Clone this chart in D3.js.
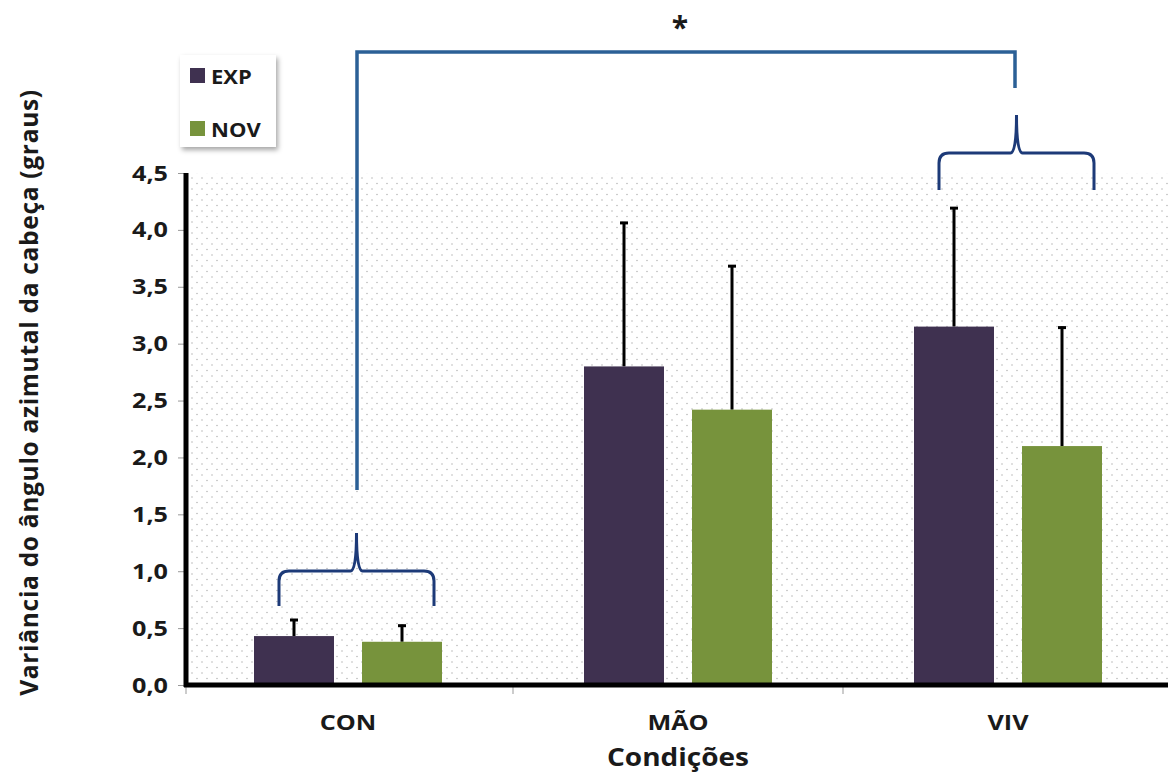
<!DOCTYPE html>
<html lang="pt">
<head>
  <meta charset="UTF-8">
  <title>Variância do ângulo azimutal da cabeça</title>
  <style>
    body { margin: 0; background: #fff; }
    svg { display: block; }
    text { font-family: "Open Sans", "Noto Sans", sans-serif; font-weight: bold; fill: #1a1a1a; }
  </style>
  <script src="https://d3js.org/d3.v7.min.js"></script>
</head>
<body>
  <div id="chart"></div>
  <script>
    // Data
    const categories = ['CON', 'MÃO', 'VIV'];
    const seriesNames = ['EXP', 'NOV'];
    const expValues = [0.43, 2.80, 3.15];
    const novValues = [0.38, 2.42, 2.10];
    const expErrors = [0.15, 1.27, 1.05];
    const novErrors = [0.15, 1.27, 1.05];
    const yTicks = [0, 0.5, 1, 1.5, 2, 2.5, 3, 3.5, 4, 4.5];

    const width = 1168, height = 775;
    const colors = { EXP: '#3f3150', NOV: '#77933c' };
    // the original figure is stretched sideways, so its glyphs are wide
    const stretch = 1.2;

    const svg = d3.select('#chart').append('svg')
      .attr('width', width).attr('height', height);

    // dotted background pattern
    const defs = svg.append('defs');
    const pat = defs.append('pattern')
      .attr('id', 'dots').attr('patternUnits', 'userSpaceOnUse')
      .attr('width', 10).attr('height', 11);
    pat.append('circle').attr('cx', 2).attr('cy', 2).attr('r', 0.8).attr('fill', '#b8b8b8');
    pat.append('circle').attr('cx', 7).attr('cy', 7.5).attr('r', 0.8).attr('fill', '#b8b8b8');

    const filter = defs.append('filter').attr('id', 'shadow')
      .attr('x', '-20%').attr('y', '-20%').attr('width', '150%').attr('height', '150%');
    filter.append('feDropShadow').attr('dx', 2).attr('dy', 3)
      .attr('stdDeviation', 2.5).attr('flood-color', '#000').attr('flood-opacity', 0.35);

    const x = d3.scaleBand().domain(categories).range([183, 1173]);
    const y = d3.scaleLinear().domain([0, 4.5]).range([685, 173]);
    const barW = 80, gap = 28;
    const xs = d3.scaleOrdinal().domain(seriesNames)
      .range([-(barW + gap / 2), gap / 2]);

    // plot background
    svg.append('rect')
      .attr('x', 186).attr('y', y(4.5))
      .attr('width', width - 186).attr('height', y(0) - y(4.5))
      .attr('fill', 'url(#dots)');

    // y axis (tick marks from d3, labels drawn separately)
    const yAxis = d3.axisLeft(y).tickValues(yTicks).tickFormat('').tickSize(8);
    const gy = svg.append('g').attr('transform', 'translate(186,0)').call(yAxis);
    gy.select('.domain').remove();
    gy.selectAll('.tick line').attr('stroke', '#999');

    svg.append('g').selectAll('text').data(yTicks).join('text')
      .attr('transform', d => `translate(168,${y(d)}) scale(${stretch},1)`)
      .attr('dy', '0.36em')
      .attr('text-anchor', 'end')
      .attr('font-size', 21)
      .text(d => d3.format('.1f')(d).replace('.', ','));

    // x axis separators
    const gx = svg.append('g').attr('transform', `translate(0,${y(0)})`);
    gx.selectAll('line.sep')
      .data(categories.slice(1))
      .join('line')
      .attr('x1', d => x(d)).attr('x2', d => x(d))
      .attr('y1', 0).attr('y2', 9)
      .attr('stroke', '#999');
    gx.append('line').attr('x1', 186).attr('x2', 186).attr('y1', 0).attr('y2', 9).attr('stroke', '#999');

    // bars
    const rows = categories.map((c, i) => [
      { cat: c, key: 'EXP', v: expValues[i], e: expErrors[i] },
      { cat: c, key: 'NOV', v: novValues[i], e: novErrors[i] }
    ]).flat();

    // error bars
    const eb = svg.append('g');
    eb.selectAll('line.err').data(rows).join('line')
      .attr('x1', d => x(d.cat) + x.bandwidth() / 2 + xs(d.key) + barW / 2)
      .attr('x2', d => x(d.cat) + x.bandwidth() / 2 + xs(d.key) + barW / 2)
      .attr('y1', d => y(d.v)).attr('y2', d => y(d.v + d.e))
      .attr('stroke', '#000').attr('stroke-width', 3);
    eb.selectAll('line.cap').data(rows).join('line')
      .attr('x1', d => x(d.cat) + x.bandwidth() / 2 + xs(d.key) + barW / 2 - 4)
      .attr('x2', d => x(d.cat) + x.bandwidth() / 2 + xs(d.key) + barW / 2 + 4)
      .attr('y1', d => y(d.v + d.e) + 1).attr('y2', d => y(d.v + d.e) + 1)
      .attr('stroke', '#000').attr('stroke-width', 3);

    svg.append('g').selectAll('rect').data(rows).join('rect')
      .attr('x', d => x(d.cat) + x.bandwidth() / 2 + xs(d.key))
      .attr('y', d => y(d.v))
      .attr('width', barW)
      .attr('height', d => y(0) - y(d.v))
      .attr('fill', d => colors[d.key]);

    // thick axis lines
    svg.append('line').attr('x1', 186).attr('x2', 186)
      .attr('y1', y(4.5)).attr('y2', y(0) + 2)
      .attr('stroke', '#000').attr('stroke-width', 5);
    svg.append('line').attr('x1', 184).attr('x2', width)
      .attr('y1', y(0)).attr('y2', y(0))
      .attr('stroke', '#000').attr('stroke-width', 5);

    // category labels
    svg.append('g').selectAll('text').data(categories).join('text')
      .attr('transform', d => `translate(${x(d) + x.bandwidth() / 2},730) scale(${stretch},1)`)
      .attr('text-anchor', 'middle')
      .attr('font-size', 21)
      .text(d => d);

    svg.append('text')
      .attr('transform', `translate(${x('MÃO') + x.bandwidth() / 2},766) scale(1.12,1)`)
      .attr('text-anchor', 'middle').attr('font-size', 25)
      .text('Condições');

    svg.append('text')
      .attr('transform', `translate(38,${(y(0) + 100) / 2}) rotate(-90)`)
      .attr('text-anchor', 'middle').style('font-size', '24.5px').style('letter-spacing', '0.7px')
      .text('Variância  do ângulo azimutal da cabeça (graus)');

    // legend
    const lg = svg.append('g').attr('transform', 'translate(180,55)');
    lg.append('rect').attr('width', 96).attr('height', 92)
      .attr('fill', '#fff').attr('filter', 'url(#shadow)');
    seriesNames.forEach((s, i) => {
      lg.append('rect').attr('x', 10).attr('y', 13 + i * 53)
        .attr('width', 15).attr('height', 15).attr('fill', colors[s]);
      lg.append('text').attr('transform', `translate(31,${29 + i * 53}) scale(1.1,1)`)
        .attr('font-size', 20).text(s);
    });

    // significance bracket
    const cx = c => x(c) + x.bandwidth() / 2;
    svg.append('path')
      .attr('d', `M${cx('CON') + 9},490 V52 H${cx('VIV') + 7} V88`)
      .attr('fill', 'none').attr('stroke', '#2b6096').attr('stroke-width', 3.5);
    svg.append('text').attr('x', (cx('CON') + cx('VIV')) / 2 + 2).attr('y', 38)
      .attr('text-anchor', 'middle').style('font-size', '30px').text('*');

    // curly braces
    function brace(x0, x1, yBase, yMid, yTip) {
      const m = (x0 + x1) / 2, r = 10;
      return `M${x0},${yBase} V${yMid + r} Q${x0},${yMid} ${x0 + r},${yMid} H${m - 6} ` +
        `Q${m},${yMid} ${m},${yTip}` +
        ` Q${m},${yMid} ${m + 6},${yMid} H${x1 - r} Q${x1},${yMid} ${x1},${yMid + r} V${yBase}`;
    }
    const braces = [
      { cat: 'CON', yBase: 606, yMid: 571, yTip: 533 },
      { cat: 'VIV', yBase: 190, yMid: 153, yTip: 115 }
    ];
    svg.append('g').selectAll('path').data(braces).join('path')
      .attr('d', d => brace(cx(d.cat) - 69, cx(d.cat) + 86, d.yBase, d.yMid, d.yTip))
      .attr('fill', 'none').attr('stroke', '#1d3a78').attr('stroke-width', 3);
  </script>
</body>
</html>
